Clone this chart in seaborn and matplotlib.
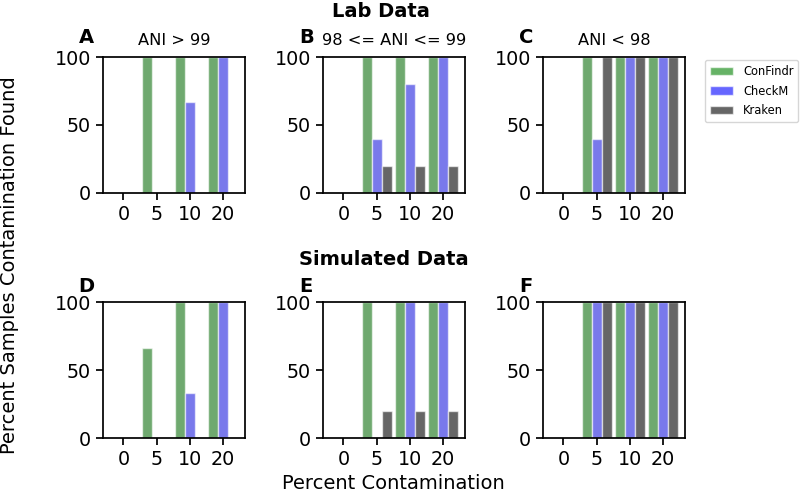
import matplotlib
matplotlib.use("Agg")
import matplotlib.pyplot as plt
from matplotlib.patches import Patch
import seaborn as sns
import pandas as pd

categories = ["0", "5", "10", "20"]
tools = ["ConFindr", "CheckM", "Kraken"]

# Lab data
a_confindr = [0, 100, 100, 100]
a_checkm = [0, 0, 66.7, 100]
a_kraken = [0, 0, 0, 0]
b_confindr = [0, 100, 100, 100]
b_checkm = [0, 40, 80, 100]
b_kraken = [0, 20, 20, 20]
c_confindr = [0, 100, 100, 100]
c_checkm = [0, 40, 100, 100]
c_kraken = [0, 100, 100, 100]
# Simulated data
d_confindr = [0, 66.7, 100, 100]
d_checkm = [0, 0, 33.3, 100]
d_kraken = [0, 0, 0, 0]
e_confindr = [0, 100, 100, 100]
e_checkm = [0, 0, 100, 100]
e_kraken = [0, 20, 20, 20]
f_confindr = [0, 100, 100, 100]
f_checkm = [0, 100, 100, 100]
f_kraken = [0, 100, 100, 100]

letters = ["A", "B", "C", "D", "E", "F"]
titles = ["ANI > 99", "98 <= ANI <= 99", "ANI < 98", "", "", ""]
panels = [
    (a_confindr, a_checkm, a_kraken),
    (b_confindr, b_checkm, b_kraken),
    (c_confindr, c_checkm, c_kraken),
    (d_confindr, d_checkm, d_kraken),
    (e_confindr, e_checkm, e_kraken),
    (f_confindr, f_checkm, f_kraken),
]

sns.set_style("ticks")
plt.rcParams["font.family"] = ["DejaVu Sans"]
plt.rcParams["axes.linewidth"] = 1.25
plt.rcParams["xtick.major.width"] = 1.25
plt.rcParams["ytick.major.width"] = 1.25
plt.rcParams["text.color"] = "black"
plt.rcParams["xtick.color"] = "black"
plt.rcParams["ytick.color"] = "black"
plt.rcParams["axes.edgecolor"] = "black"

palette = {"ConFindr": "green", "CheckM": "blue", "Kraken": "black"}

fig = plt.figure(figsize=(8, 4.96), dpi=100)
W, H = 800, 496
lefts = [102.7, 322.7, 542.7]
tops = [57, 302.3]
aw, ah = 142.3, 136

for i, (vals, letter, title) in enumerate(zip(panels, letters, titles)):
    r, c = divmod(i, 3)
    ax = fig.add_axes([lefts[c] / W, 1 - (tops[r] + ah) / H, aw / W, ah / H])
    rows = []
    for tool, v in zip(tools, vals):
        for cat, val in zip(categories, v):
            rows.append({"cat": cat, "tool": tool, "val": val})
    df = pd.DataFrame(rows)
    sns.barplot(data=df, x="cat", y="val", hue="tool", order=categories,
                hue_order=tools, palette=palette, alpha=0.6, width=0.9,
                edgecolor="white", linewidth=1, errorbar=None, legend=False,
                ax=ax)
    ax.set_xlim(-0.62, 3.66)
    ax.set_ylim(0, 100)
    ax.set_yticks([0, 50, 100])
    ax.set_xlabel("")
    ax.set_ylabel("")
    ax.tick_params(labelsize=13.8, length=5, color="black", labelcolor="black")
    for s in ax.spines.values():
        s.set_color("black")
    if title:
        ax.set_title(title, fontsize=11.7, pad=8.5, color="black")
    dy = 14 if r == 0 else 10
    ax.text(-0.115, 1 + dy / ah, letter, transform=ax.transAxes,
            fontsize=14, fontweight="bold", ha="center", va="baseline")

fig.text(381 / W, 1 - 17 / H, "Lab Data", fontsize=14, fontweight="bold",
         ha="center", va="baseline")
fig.text(384 / W, 1 - 265 / H, "Simulated Data", fontsize=14,
         fontweight="bold", ha="center", va="baseline")
fig.text(10 / W, 1 - 265 / H, "Percent Samples Contamination Found",
         fontsize=14, rotation=90, ha="center", va="center")
fig.text(393 / W, 1 - 489 / H, "Percent Contamination", fontsize=14,
         ha="center", va="baseline")

handles = [Patch(facecolor=palette[t], alpha=0.6, edgecolor="white", label=t)
           for t in tools]
fig.legend(handles=handles, loc="upper left",
           bbox_to_anchor=(705 / W, 1 - 60 / H), borderaxespad=0,
           fontsize=8.3, handlelength=2.0, handletextpad=0.9,
           labelspacing=0.6, frameon=True)

fig.savefig("out.png", dpi=100)
